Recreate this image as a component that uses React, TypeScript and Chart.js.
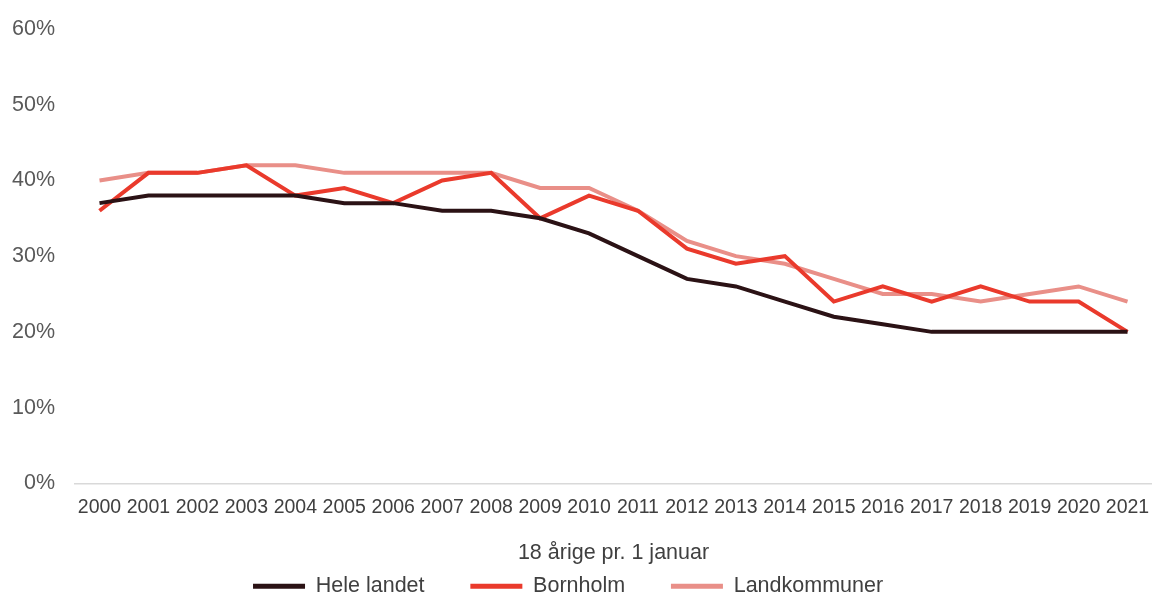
import React, { useEffect, useRef } from "react";
import { Chart, registerables } from "chart.js";

Chart.register(...registerables);

const years = ["2000","2001","2002","2003","2004","2005","2006","2007","2008","2009","2010","2011","2012","2013","2014","2015","2016","2017","2018","2019","2020","2021"];
const heleLandet = [37,38,38,38,38,37,37,36,36,35,33,30,27,26,24,22,21,20,20,20,20,20];
const bornholm = [36,41,41,42,38,39,37,40,41,35,38,36,31,29,30,24,26,24,26,24,24,20];
const landkommuner = [40,41,41,42,42,41,41,41,41,39,39,36,32,30,29,27,25,25,24,25,26,24];
const axisTitle = "18 årige pr. 1 januar";
const legendGap = "\u00a0\u00a0\u00a0\u00a0\u00a0\u00a0\u00a0";
const legendTail = "\u00a0\u00a0\u00a0\u00a0";

export default function App() {
  const ref = useRef<HTMLCanvasElement>(null);
  useEffect(() => {
    document.body.style.margin = "0";
    const font = "'Liberation Sans', Arial, Helvetica, sans-serif";
    const chart = new Chart(ref.current!, {
      type: "line",
      data: {
        labels: years,
        datasets: [
          { label: "Hele landet", data: heleLandet, borderColor: "#2b1215", backgroundColor: "#2b1215", borderWidth: 4, pointRadius: 0, tension: 0 },
          { label: "Bornholm", data: bornholm, borderColor: "#ea3a2c", backgroundColor: "#ea3a2c", borderWidth: 4, pointRadius: 0, tension: 0 },
          { label: "Landkommuner", data: landkommuner, borderColor: "#e98f88", backgroundColor: "#e98f88", borderWidth: 4, pointRadius: 0, tension: 0 },
        ],
      },
      options: {
        responsive: false,
        animation: false,
        layout: { padding: { top: 29, left: 0, right: -8, bottom: -14 } },
        plugins: {
          tooltip: { enabled: false },
          legend: {
            position: "bottom",
            labels: {
              boxWidth: 52,
              boxHeight: 5,
              padding: 4,
              color: "#404040",
              font: { family: font, size: 21.5 },
              generateLabels: (c: any) => {
                const items = Chart.defaults.plugins.legend.labels.generateLabels(c);
                items.forEach((it: any, i: number) => {
                  it.lineWidth = 0;
                  it.text = it.text + (i < items.length - 1 ? legendGap : legendTail);
                });
                return items;
              },
            },
          },
        },
        scales: {
          x: {
            offset: true,
            grid: { display: false },
            border: { display: true, color: "#d9d9d9", width: 1.5 },
            ticks: { color: "#404040", font: { family: font, size: 19.5 }, maxRotation: 0, autoSkip: false, padding: 5 },
            title: { display: true, text: axisTitle, color: "#404040", font: { family: font, size: 21.5 }, padding: { top: 15, bottom: 6 } },
            afterFit: (s: any) => { s.paddingLeft = 0; s.paddingRight = 0; },
          },
          y: {
            min: 0,
            max: 60,
            grid: { display: false },
            border: { display: false },
            ticks: { stepSize: 10, color: "#595959", font: { family: font, size: 21.5 }, padding: 12, callback: (v: any) => v + "%" },
            afterFit: (s: any) => { s.paddingTop = 0; s.paddingBottom = 0; },
          },
        },
      },
    });
    return () => chart.destroy();
  }, []);
  return <canvas ref={ref} width={1152} height={593} style={{ display: "block" }} />;
}
